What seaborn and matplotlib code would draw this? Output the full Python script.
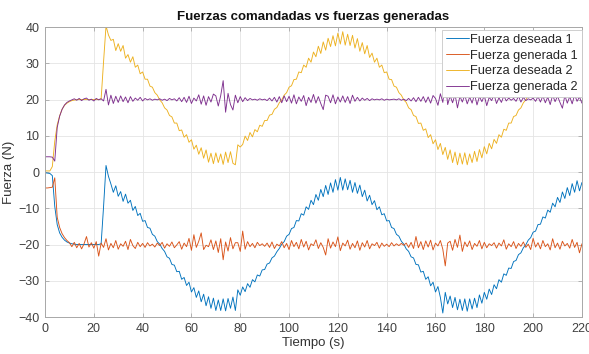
import numpy as np
import pandas as pd
import matplotlib
matplotlib.use("Agg")
import matplotlib.pyplot as plt
import seaborn as sns

# ---------------- data ----------------
tiempo = list(range(0, 221))  # s, 1 s sampling

deseada_1 = [
    -0.2, -0.3, -0.4, -1.0, -9.5, -14.5, -16.8, -18.0, -18.8, -19.3,
    -19.6, -19.8, -19.9, -20.0, -20.0, -20.0, -20.0, -20.0, -20.0, -20.0,
    -20.0, -20.0, -20.0, -19.8, -9.5, 1.8, -1.2, -3.3, -5.6, -3.8,
    -6.7, -5.4, -8.1, -6.1, -8.6, -7.8, -10.6, -9.5, -12.0, -11.4,
    -13.6, -13.4, -15.3, -15.5, -17.2, -17.7, -19.2, -19.9, -21.1, -21.9,
    -23.4, -23.8, -25.5, -25.7, -27.5, -27.4, -29.6, -29.1, -31.3, -30.4,
    -33.1, -31.9, -34.6, -32.8, -35.8, -33.7, -36.9, -34.4, -37.6, -34.8,
    -38.2, -35.3, -38.2, -35.0, -38.3, -34.9, -37.6, -34.5, -38.2, -32.5,
    -34.0, -31.7, -33.0, -30.8, -31.8, -29.7, -30.3, -28.4, -28.7, -27.0,
    -26.9, -25.4, -25.1, -23.7, -23.2, -22.0, -21.1, -19.9, -19.2, -17.7,
    -17.2, -15.6, -15.3, -13.4, -13.5, -11.5, -11.9, -9.6, -10.3, -7.8,
    -9.0, -6.2, -7.8, -4.8, -6.8, -3.7, -6.2, -3.0, -5.6, -2.1,
    -5.0, -1.5, -5.0, -1.9, -4.9, -2.3, -5.6, -2.9, -5.9, -3.6,
    -6.8, -5.0, -8.0, -6.4, -9.0, -7.9, -10.4, -9.6, -11.8, -11.5,
    -13.5, -13.4, -15.3, -15.6, -17.2, -17.7, -19.1, -19.9, -21.2, -21.9,
    -23.4, -23.7, -25.5, -25.6, -27.6, -27.4, -29.6, -28.9, -31.4, -30.4,
    -33.1, -31.6, -34.6, -38.9, -33.2, -36.4, -34.2, -37.4, -34.6, -38.0,
    -35.1, -38.2, -35.0, -38.4, -35.0, -37.8, -34.8, -37.4, -33.9, -36.2,
    -33.2, -35.1, -32.3, -33.8, -31.1, -32.2, -29.7, -30.4, -28.1, -28.5,
    -26.5, -26.6, -24.7, -24.4, -22.8, -22.3, -20.9, -20.1, -18.8, -18.1,
    -16.6, -16.3, -14.5, -14.4, -12.4, -12.7, -10.5, -11.1, -8.6, -9.6,
    -7.0, -8.4, -5.5, -7.3, -4.3, -6.5, -3.2, -5.6, -2.4, -5.2,
    -2.9,
]

generada_1 = [
    -4.4, -4.4, -4.3, -4.2, -1.6, -12.5, -15.3, -17.0, -18.1, -18.9,
    -19.5, -20.6, -19.4, -20.9, -19.7, -21.2, -19.8, -17.8, -20.7, -19.5,
    -21.0, -19.2, -23.2, -19.6, -20.8, -18.4, -21.5, -19.7, -20.9, -18.9,
    -21.3, -19.8, -20.5, -19.1, -21.4, -18.6, -20.3, -21.1, -19.4, -20.6,
    -19.7, -20.8, -19.5, -20.4, -19.9, -20.7, -19.6, -20.3, -19.4, -21.0,
    -19.8, -20.5, -19.3, -20.9, -20.1, -19.2, -21.3, -19.6, -20.6, -18.3,
    -21.6, -17.3, -20.8, -19.1, -16.8, -21.4, -20.2, -20.6, -18.7, -21.4,
    -19.0, -22.2, -18.4, -24.2, -19.3, -21.8, -18.1, -21.2, -19.5, -19.5,
    -21.9, -16.3, -21.3, -19.2, -20.6, -19.7, -20.9, -19.4, -20.3, -19.8,
    -20.5, -19.6, -20.8, -19.3, -21.1, -19.9, -20.4, -19.2, -20.9, -19.7,
    -21.4, -18.9, -20.6, -19.4, -21.2, -18.6, -20.7, -19.1, -21.5, -19.8,
    -20.3, -18.7, -21.1, -19.5, -20.8, -22.9, -18.4, -21.0, -19.3, -20.6,
    -17.9, -21.7, -19.6, -20.4, -18.8, -21.3, -19.7, -20.9, -19.0, -21.6,
    -19.5, -20.7, -18.9, -21.2, -19.8, -20.3, -19.4, -21.0, -19.6, -20.5,
    -19.9, -20.6, -19.5, -20.4, -19.8, -20.3, -19.7, -20.2, -19.6, -20.8,
    -19.4, -21.1, -17.8, -20.9, -19.2, -21.4, -19.0, -20.7, -18.8, -21.5,
    -19.6, -20.4, -18.9, -21.3, -25.9, -19.6, -19.1, -21.6, -18.6, -20.8,
    -17.4, -21.9, -19.3, -20.6, -19.0, -21.4, -19.7, -20.5, -18.9, -21.2,
    -19.4, -20.9, -19.8, -20.3, -19.5, -21.0, -19.6, -20.4, -18.7, -21.3,
    -19.8, -20.6, -19.2, -21.1, -19.7, -20.5, -19.3, -20.8, -19.9, -21.4,
    -18.3, -20.7, -19.5, -21.2, -18.9, -20.6, -19.8, -21.5, -18.4, -20.9,
    -19.6, -21.3, -19.1, -20.4, -19.7, -21.0, -18.6, -20.8, -19.4, -22.3,
    -19.8,
]

deseada_2 = [
    0.3, 0.3, 0.3, 1.5, 8.5, 13.0, 15.5, 17.3, 18.4, 19.0,
    19.4, 19.7, 19.85, 19.95, 20.0, 20.0, 20.0, 20.0, 20.0, 20.0,
    20.0, 20.0, 20.0, 20.2, 30.5, 40.3, 37.8, 36.3, 36.6, 33.5,
    35.4, 33.3, 34.9, 31.4, 32.4, 30.3, 31.8, 28.9, 29.5, 27.1,
    27.6, 25.6, 25.6, 23.7, 23.4, 21.9, 21.2, 19.9, 19.1, 17.7,
    17.1, 15.6, 15.2, 13.5, 13.5, 11.4, 11.6, 9.6, 10.3, 8.2,
    8.9, 6.3, 7.4, 4.9, 6.7, 3.8, 6.1, 2.7, 5.2, 2.3,
    5.3, 2.6, 5.0, 2.1, 5.5, 2.6, 5.6, 2.4, 2.0, 7.5,
    6.9, 7.6, 9.9, 8.7, 10.9, 9.7, 11.7, 11.1, 12.9, 12.6,
    14.2, 14.2, 15.7, 15.9, 17.3, 17.8, 19.1, 19.9, 21.2, 21.9,
    23.4, 23.8, 25.5, 25.6, 27.6, 27.4, 29.5, 28.9, 31.4, 30.3,
    33.1, 31.8, 34.7, 32.7, 35.9, 33.6, 36.9, 34.6, 37.6, 34.8,
    38.3, 35.3, 38.7, 35.0, 38.0, 34.9, 37.7, 34.2, 36.8, 33.3,
    35.7, 32.6, 34.9, 31.6, 32.8, 30.3, 31.4, 28.9, 29.5, 27.4,
    27.6, 25.6, 25.5, 23.7, 23.4, 21.9, 21.2, 19.9, 19.2, 17.7,
    17.2, 15.6, 15.3, 13.4, 13.5, 11.5, 11.9, 9.5, 10.3, 7.8,
    8.9, 6.2, 7.9, 4.8, 6.8, 3.5, 6.1, 2.6, 5.5, 2.0,
    5.2, 2.2, 5.3, 2.0, 5.0, 2.6, 5.7, 2.9, 6.2, 3.9,
    7.0, 5.0, 7.9, 6.4, 9.0, 7.9, 10.3, 9.6, 11.8, 11.5,
    13.5, 13.5, 15.3, 15.6, 17.1, 17.7, 19.1, 19.9, 21.2, 21.8,
    23.4, 23.7, 25.6, 25.6, 27.6, 27.3, 29.6, 28.9, 31.4, 30.3,
    33.1, 31.5, 34.6, 32.6, 35.9, 33.6, 36.9, 34.3, 37.6, 34.7,
    37.2,
]

generada_2 = [
    4.2, 4.2, 4.2, 4.1, 3.0, 12.3, 15.4, 17.3, 18.5, 19.2,
    19.6, 19.9, 20.2, 19.8, 20.3, 19.7, 20.2, 20.4, 19.8, 20.1,
    19.6, 20.3, 19.9, 20.2, 19.6, 22.8, 18.5, 21.2, 18.9, 20.9,
    19.2, 21.0, 19.4, 20.7, 19.1, 20.8, 19.5, 20.4, 19.8, 20.6,
    19.6, 20.3, 19.9, 20.2, 19.8, 20.1, 19.9, 20.2, 19.8, 20.1,
    19.7, 20.3, 19.9, 20.2, 19.6, 20.5, 19.4, 20.6, 19.2, 20.9,
    18.9, 20.4, 19.6, 21.3, 18.7, 21.0, 18.4, 20.8, 19.3, 21.5,
    21.0, 18.2, 21.1, 25.2, 16.5, 21.7, 18.6, 17.1, 21.2, 19.1,
    20.8, 19.4, 20.5, 19.7, 20.3, 19.9, 20.1, 19.8, 20.2, 19.9,
    20.1, 19.7, 20.4, 19.6, 20.6, 19.3, 20.8, 19.1, 21.0, 19.4,
    20.9, 19.0, 21.3, 18.8, 20.7, 19.5, 21.1, 18.3, 20.6, 19.2,
    21.4, 19.0, 20.8, 18.9, 17.2, 21.2, 20.9, 19.1, 21.3, 18.8,
    20.7, 19.3, 21.0, 19.2, 20.8, 18.9, 21.2, 19.5, 20.6, 19.6,
    20.4, 19.8, 20.3, 19.7, 20.2, 19.9, 20.1, 19.9, 20.2, 19.8,
    20.1, 19.9, 20.0, 20.1, 19.9, 20.2, 19.8, 20.1, 19.7, 20.3,
    19.6, 20.5, 19.4, 20.6, 19.5, 20.8, 19.2, 20.7, 19.0, 21.1,
    20.3, 18.4, 21.6, 19.2, 24.9, 18.6, 21.0, 19.1, 21.4, 17.7,
    20.9, 19.3, 21.2, 18.8, 20.7, 19.0, 21.5, 18.5, 20.8, 19.4,
    21.1, 18.3, 20.6, 19.7, 21.3, 18.9, 20.5, 19.2, 21.0, 19.6,
    20.4, 19.8, 20.3, 19.5, 20.9, 19.3, 20.6, 19.7, 20.2, 19.9,
    20.4, 19.5, 20.8, 19.3, 21.0, 19.1, 20.7, 18.6, 21.2, 19.4,
    20.9, 19.2, 17.6, 21.1, 19.0, 20.8, 18.8, 21.3, 19.5, 20.7,
    19.0,
]

series_labels = ["Fuerza deseada 1", "Fuerza generada 1",
                 "Fuerza deseada 2", "Fuerza generada 2"]
series_colors = ["#0072BD", "#D95319", "#EDB120", "#7E2F8E"]
x_ticks = [0, 20, 40, 60, 80, 100, 120, 140, 160, 180, 200, 220]
y_ticks = [-40, -30, -20, -10, 0, 10, 20, 30, 40]

# ---------------- style ----------------
sns.set_theme(style="white")
plt.rcParams["font.family"] = ["Liberation Sans", "DejaVu Sans"]

fig = plt.figure(figsize=(5.89, 3.54), dpi=100)
ax = fig.add_axes([0.0764, 0.1045, 0.9116, 0.8192])

values = [deseada_1, generada_1, deseada_2, generada_2]
for lab, col, vals in zip(series_labels, series_colors, values):
    df = pd.DataFrame({"Tiempo": tiempo, "Fuerza": vals})
    sns.lineplot(data=df, x="Tiempo", y="Fuerza", ax=ax, color=col,
                 linewidth=0.65, label=lab, estimator=None, sort=False)

ax.set_xlim(0, 220)
ax.set_ylim(-40, 40)
ax.set_xticks(x_ticks)
ax.set_yticks(y_ticks)
ax.grid(True, color="#e4e4e4", linewidth=0.6)
ax.set_axisbelow(True)
for sp in ax.spines.values():
    sp.set_visible(True)
    sp.set_color("#a8a8a8")
    sp.set_linewidth(0.7)
ax.tick_params(axis="both", direction="in", length=3, width=0.6,
               color="#a8a8a8", labelsize=9, labelcolor="#404040", pad=4,
               top=True, right=True, bottom=True, left=True)

ax.set_xlabel("Tiempo (s)", fontsize=9.5, color="#333333", labelpad=2)
ax.set_ylabel("Fuerza (N)", fontsize=9.5, color="#333333", labelpad=2)
ax.set_title("Fuerzas comandadas vs fuerzas generadas", fontsize=9.5,
             fontweight="bold", color="#111111", pad=5)

leg = ax.legend(loc="upper right", bbox_to_anchor=(1.0, 0.99),
                borderaxespad=0.0, fontsize=9.2, frameon=True,
                fancybox=False, framealpha=1.0, edgecolor="#c8c8c8",
                handlelength=1.8, handletextpad=0.15, labelspacing=0.3,
                borderpad=0.3)
leg.get_frame().set_linewidth(0.6)
for t in leg.get_texts():
    t.set_color("#262626")

fig.savefig("out.png", dpi=100)
